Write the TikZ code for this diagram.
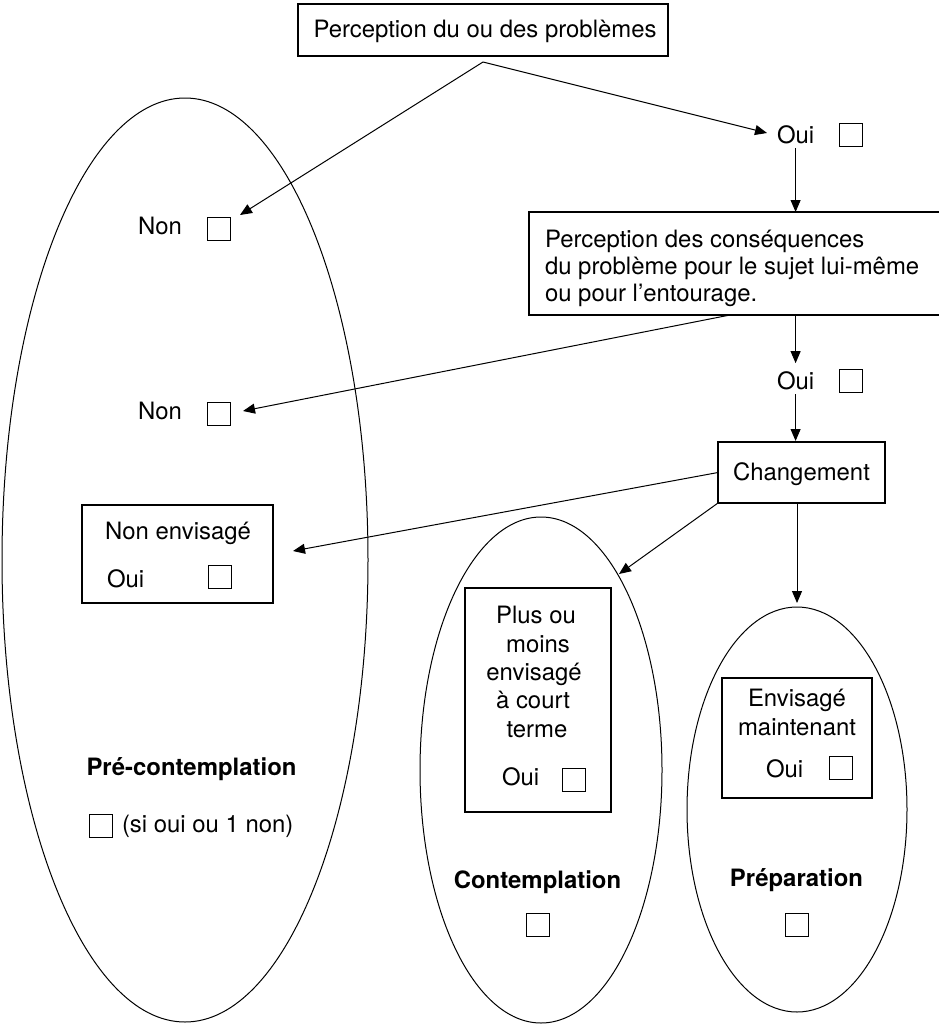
\documentclass[tikz,border=0pt]{standalone}
\usepackage{fontspec}
\setmainfont{TeX Gyre Heros}
\usetikzlibrary{arrows.meta,shapes.geometric}
\begin{document}
\begin{tikzpicture}[x=1pt,y=-1pt,
  every node/.style={font=\fontsize{23.9}{28}\selectfont, inner sep=0pt, outer sep=0pt},
  frame/.style={draw, rectangle, line width=1.1pt},
  cbox/.style={draw, rectangle, line width=0.9pt, minimum width=23pt, minimum height=23pt, anchor=north west},
  conn/.style={line width=1pt, -{Triangle[length=12pt,width=10pt]}},
  ring/.style={draw, ellipse, line width=1pt},
  lab/.style={font=\bfseries\fontsize{23.9}{28}\selectfont, anchor=base}
]
\useasboundingbox (0,0) rectangle (939,1025);
\clip (0,0) rectangle (939,1025);

% ellipses
\node[ring, minimum width=366pt, minimum height=924pt] (pre) at (185,560) {};
\node[ring, minimum width=242pt, minimum height=506pt] (cont) at (541,770) {};
\node[ring, minimum width=220pt, minimum height=405pt] (prep) at (797,809.5) {};

% top box
\node[frame, minimum width=370pt, minimum height=52pt] (prob) at (483,30) {};
\node[anchor=base] (probt) at (485,38) {Perception du ou des problèmes};
\coordinate (split) at (483,62);

% first Non / Oui
\node[anchor=base west] (non1) at (138,234) {Non};
\node[cbox] (cbnon1) at (207,217) {};
\coordinate (tnon1) at (240,215);
\node[anchor=base west] (oui1) at (777,143) {Oui};
\node[cbox] (cboui1) at (839,123) {};
\coordinate (toui1) at (767,133);
\draw[conn] (split) -- (tnon1);
\draw[conn] (split) -- (toui1);

% consequences box
\node[frame, anchor=north west, minimum width=430pt, minimum height=103pt] (cons) at (529,212) {};
\node[anchor=base west] (cons1) at (545,247) {Perception des conséquences};
\node[anchor=base west] (cons2) at (545,274) {du problème pour le sujet lui-même};
\node[anchor=base west] (cons3) at (545,301) {ou pour l’entourage.};
\draw[conn, shorten <=5pt] (oui1.south) -- (oui1.south |- cons.north);

% second Non / Oui
\node[anchor=base west] (non2) at (138,419) {Non};
\node[cbox] (cbnon2) at (207,402) {};
\coordinate (scons) at (730,315);
\coordinate (tnon2) at (243,411);
\draw[conn] (scons) -- (tnon2);
\node[anchor=base west] (oui2) at (777,389) {Oui};
\node[cbox] (cboui2) at (839,369) {};
\draw[conn, shorten >=8pt] (oui2.north |- cons.south) -- (oui2.north);

% changement
\node[frame, minimum width=167pt, minimum height=61pt] (chg) at (801.5,472.5) {};
\node[anchor=base] (chgt) at (801.5,480) {Changement};
\draw[conn, shorten <=5pt, shorten >=1pt] (oui2.south) -- (oui2.south |- chg.north);

% non envisage
\node[frame, anchor=north west, minimum width=191pt, minimum height=98pt] (nenv) at (82,505) {};
\node[anchor=base] (nenvt) at (178,539) {Non envisagé};
\node[anchor=base west] (nenvoui) at (107,587) {Oui};
\node[cbox] (cbnenv) at (208,565) {};
\coordinate (tnenv) at (293,551);
\draw[conn] (chg.west) -- (tnenv);

% contemplation
\coordinate (tcont) at (619,574);
\draw[conn] (chg.south west) -- (tcont);
\node[frame, anchor=north west, minimum width=146pt, minimum height=224pt] (plus) at (465,588) {};
\node[anchor=base] (plus1) at (536,623) {Plus ou};
\node[anchor=base] (plus2) at (538,652) {moins};
\node[anchor=base] (plus3) at (534,680) {envisagé};
\node[anchor=base] (plus4) at (533,708) {à court};
\node[anchor=base] (plus5) at (537,737) {terme};
\node[anchor=base west] (plusoui) at (502,785) {Oui};
\node[cbox] (cbplus) at (562,768) {};

% preparation
\draw[conn, shorten >=4pt] (prep.north |- chg.south) -- (prep.north);
\node[frame, anchor=north west, minimum width=150pt, minimum height=120pt] (env) at (722,678) {};
\node[anchor=base] (env1) at (797,706) {Envisagé};
\node[anchor=base] (env2) at (797,735) {maintenant};
\node[anchor=base west] (envoui) at (766,777) {Oui};
\node[cbox] (cbenv) at (829,756) {};

% stage labels
\node[lab] (lpre) at (191.5,775) {Pré-contemplation};
\node[cbox] (cbpre) at (89,814) {};
\node[anchor=base west] (lpre2) at (122,832) {(si oui ou 1 non)};
\node[lab] (lcont) at (537.5,888) {Contemplation};
\node[cbox] (cbcont) at (526,913) {};
\node[lab] (lprep) at (796.5,886) {Préparation};
\node[cbox] (cbprep) at (785,913) {};
\end{tikzpicture}
\end{document}
